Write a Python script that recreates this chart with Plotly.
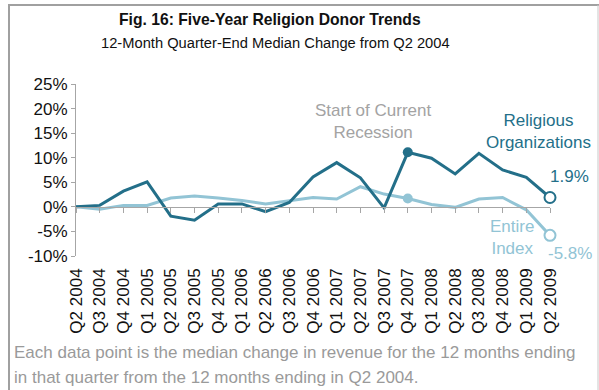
import plotly.graph_objects as go

# Quarter-end labels, Q2 2004 through Q2 2009
quarters = [
    "Q2 2004", "Q3 2004", "Q4 2004", "Q1 2005", "Q2 2005", "Q3 2005", "Q4 2005",
    "Q1 2006", "Q2 2006", "Q3 2006", "Q4 2006", "Q1 2007", "Q2 2007", "Q3 2007",
    "Q4 2007", "Q1 2008", "Q2 2008", "Q3 2008", "Q4 2008", "Q1 2009", "Q2 2009",
]

# 12-month median change from Q2 2004 (%)
religious = [0.0, 0.3, 3.2, 5.1, -1.9, -2.7, 0.6, 0.6, -1.0, 0.9, 6.1, 9.0, 5.9,
             -0.2, 11.1, 9.9, 6.7, 10.9, 7.5, 6.0, 1.9]
entire_index = [0.0, -0.5, 0.3, 0.3, 1.8, 2.2, 1.8, 1.3, 0.6, 1.2, 1.9, 1.6, 4.1,
                2.6, 1.7, 0.5, -0.1, 1.6, 1.9, -0.6, -5.8]

y_ticks = [-10, -5, 0, 5, 10, 15, 20, 25]
y_tick_labels = ["-10%", "-5%", "0%", "5%", "10%", "15%", "20%", "25%"]
recession_idx = quarters.index("Q4 2007")
last_idx = len(quarters) - 1

DARK = "#236f89"
LIGHT = "#92c4d5"
GRAY = "#a3a3a3"
FONT = "Liberation Sans, Arial, sans-serif"

# plot-area placement in pixels
W, H = 599, 390
L, R, T, B = 76, 550, 84, 256


def px(x):
    return (x - L) / (R - L)


def py(y):
    return (B - y) / (B - T)


fig = go.Figure()

fig.add_trace(go.Scatter(x=quarters, y=entire_index, mode="lines",
                         line=dict(color=LIGHT, width=3), cliponaxis=False))
fig.add_trace(go.Scatter(x=quarters, y=religious, mode="lines",
                         line=dict(color=DARK, width=3), cliponaxis=False))

# recession-start markers
fig.add_trace(go.Scatter(x=[quarters[recession_idx]], y=[entire_index[recession_idx]],
                         mode="markers", marker=dict(color=LIGHT, size=10),
                         cliponaxis=False))
fig.add_trace(go.Scatter(x=[quarters[recession_idx]], y=[religious[recession_idx]],
                         mode="markers", marker=dict(color=DARK, size=10),
                         cliponaxis=False))

# latest-quarter open markers
fig.add_trace(go.Scatter(x=[quarters[last_idx]], y=[entire_index[last_idx]],
                         mode="markers",
                         marker=dict(color="white", size=11,
                                     line=dict(color=LIGHT, width=2)),
                         cliponaxis=False))
fig.add_trace(go.Scatter(x=[quarters[last_idx]], y=[religious[last_idx]],
                         mode="markers",
                         marker=dict(color="white", size=11,
                                     line=dict(color=DARK, width=2)),
                         cliponaxis=False))

annotations = [
    dict(text="<b>Fig. 16: Five-Year Religion Donor Trends</b>", x=px(270), y=py(19),
         font=dict(size=15.7, color="#111111")),
    dict(text="12-Month Quarter-End Median Change from Q2 2004", x=px(275), y=py(43),
         font=dict(size=14.7, color="#111111")),
    dict(text="Start of Current<br>Recession", x=px(373), y=py(121.5),
         font=dict(size=17, color=GRAY)),
    dict(text="Religious<br>Organizations", x=px(538), y=py(131),
         font=dict(size=17, color=DARK)),
    dict(text="Entire<br>Index", x=px(512), y=py(237.5),
         font=dict(size=17, color=LIGHT)),
    dict(text="Each data point is the median change in revenue for the 12 months ending",
         x=px(12), y=py(352), xanchor="left", font=dict(size=17, color="#9a9a9a")),
    dict(text="in that quarter from the 12 months ending in Q2 2004.",
         x=px(12), y=py(377), xanchor="left", font=dict(size=17, color="#9a9a9a")),
]
for a in annotations:
    a.update(xref="paper", yref="paper", showarrow=False)
    a.setdefault("xanchor", "center")
    a["yanchor"] = "middle"
    a["font"]["family"] = FONT

# value labels attached to the final points
annotations.append(dict(text=f"{religious[last_idx]:.1f}%", x=quarters[last_idx],
                        y=religious[last_idx], xref="x", yref="y", showarrow=False,
                        xshift=19, yshift=21,
                        font=dict(size=17, color=DARK, family=FONT)))
annotations.append(dict(text=f"{entire_index[last_idx]:.1f}%", x=quarters[last_idx],
                        y=entire_index[last_idx], xref="x", yref="y", showarrow=False,
                        xshift=20, yshift=-18,
                        font=dict(size=17, color=LIGHT, family=FONT)))

# frame around the figure
shapes = [
    dict(type="line", xref="paper", yref="paper", x0=px(9), x1=px(9),
         y0=py(4), y1=py(400), line=dict(color="#a0a0a0", width=2)),
    dict(type="line", xref="paper", yref="paper", x0=px(8), x1=px(599),
         y0=py(5), y1=py(5), line=dict(color="#a0a0a0", width=2)),
    dict(type="line", xref="paper", yref="paper", x0=px(598), x1=px(598),
         y0=py(5), y1=py(400), line=dict(color="#c8c8c8", width=1)),
]

zero_pos = (0 - y_ticks[0]) / (y_ticks[-1] - y_ticks[0])

fig.update_layout(
    width=W, height=H,
    margin=dict(l=L, r=W - R, t=T, b=H - B),
    paper_bgcolor="white", plot_bgcolor="white",
    showlegend=False,
    font=dict(family=FONT, color="#111111"),
    annotations=annotations,
    shapes=shapes,
    xaxis=dict(type="category", range=[0, last_idx], showline=False, showgrid=False,
               zeroline=False, ticks="", tickangle=-90, ticklabelstandoff=8,
               tickfont=dict(size=17, color="#111111")),
    xaxis2=dict(overlaying="x", anchor="free", position=zero_pos, range=[0, last_idx],
                tickvals=list(range(len(quarters))), showticklabels=False,
                showline=True, linecolor="#a6a6a6", linewidth=1,
                ticks="outside", ticklen=5, tickcolor="#a6a6a6", showgrid=False,
                zeroline=False),
    yaxis=dict(range=[y_ticks[0], y_ticks[-1]], tickvals=y_ticks, ticktext=y_tick_labels,
               showline=True, linecolor="#a6a6a6", linewidth=1, ticks="outside",
               ticklen=4, tickcolor="#a6a6a6", showgrid=False, zeroline=False,
               tickfont=dict(size=17, color="#111111")),
)

# empty trace so the zero-line axis is drawn
fig.add_trace(go.Scatter(x=[0], y=[0], xaxis="x2", mode="markers",
                         marker=dict(opacity=0), hoverinfo="skip"))

fig.write_html("out.html")
